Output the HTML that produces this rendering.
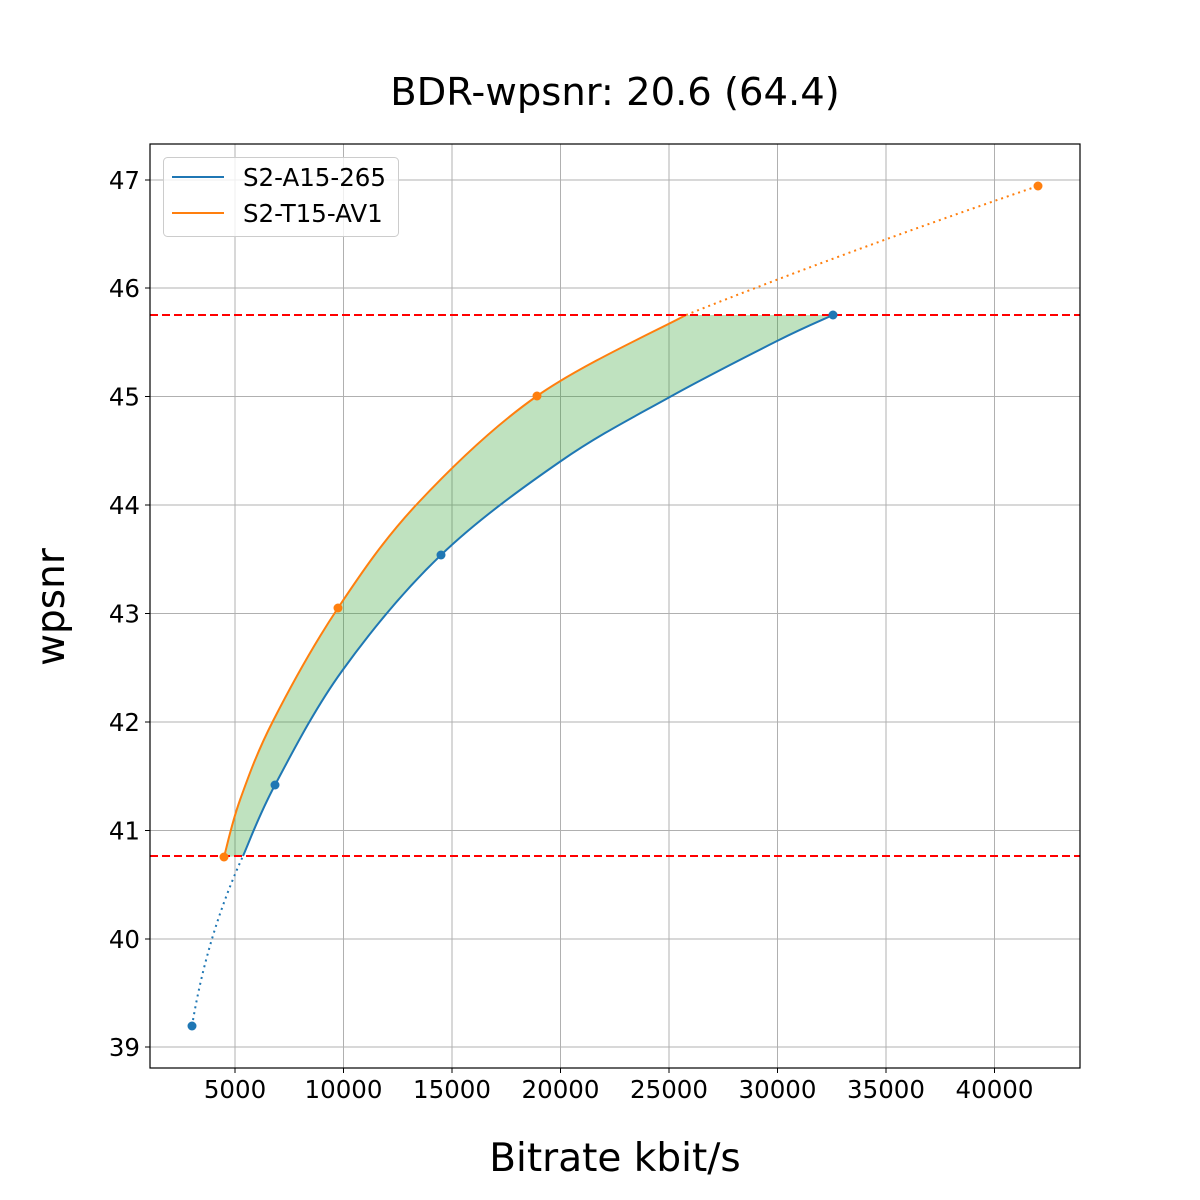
<!DOCTYPE html>
<html><head><meta charset="utf-8"><style>body{margin:0;background:#fff}svg{display:block}</style></head><body>
<svg id="s" width="1200" height="1200" xmlns="http://www.w3.org/2000/svg" font-family="DejaVu Sans, Liberation Sans, sans-serif">
<rect width="1200" height="1200" fill="#fff"/>
<g stroke="#b0b0b0" stroke-width="1">
<line x1="235" y1="144" x2="235" y2="1068"/><line x1="343.5" y1="144" x2="343.5" y2="1068"/><line x1="452" y1="144" x2="452" y2="1068"/><line x1="560.5" y1="144" x2="560.5" y2="1068"/><line x1="669" y1="144" x2="669" y2="1068"/><line x1="777.5" y1="144" x2="777.5" y2="1068"/><line x1="886" y1="144" x2="886" y2="1068"/><line x1="994.5" y1="144" x2="994.5" y2="1068"/>
<line x1="150" y1="180" x2="1080" y2="180"/><line x1="150" y1="288" x2="1080" y2="288"/><line x1="150" y1="396.5" x2="1080" y2="396.5"/><line x1="150" y1="505" x2="1080" y2="505"/><line x1="150" y1="613.5" x2="1080" y2="613.5"/><line x1="150" y1="722" x2="1080" y2="722"/><line x1="150" y1="830.5" x2="1080" y2="830.5"/><line x1="150" y1="939" x2="1080" y2="939"/><line x1="150" y1="1047" x2="1080" y2="1047"/>
</g>
<path id="fill" fill="#2ca02c" fill-opacity="0.3" d="M224,857 L273,721 L338,608 L451,468 L537,396 L686,315 L833,315 L668,398 L441,555 L342,671 L275,785 L243,856Z"/>
<path id="bd" fill="none" stroke="#1f77b4" stroke-width="2" stroke-dasharray="2,4" d="M192,1026 Q207,935 243,856"/>
<path id="b" fill="none" stroke="#1f77b4" stroke-width="2" d="M243,856 L275,785 L342,671 L441,555 L561,461 L668,398 L777,341 L833,315"/>
<path id="od" fill="none" stroke="#ff7f0e" stroke-width="2" stroke-dasharray="2,4" d="M686,315 Q850,250 1038,186"/>
<path id="o" fill="none" stroke="#ff7f0e" stroke-width="2" d="M224,857 L273,721 L338,608 L418,503 L537,396 L686,315"/>
<g stroke="#ff0000" stroke-width="2" stroke-dasharray="8,4"><line x1="150" y1="315" x2="1080" y2="315"/><line x1="150" y1="856" x2="1080" y2="856"/></g>
<g fill="#1f77b4"><circle cx="192" cy="1026" r="4.5"/><circle cx="275" cy="785" r="4.5"/><circle cx="441" cy="555" r="4.5"/><circle cx="833" cy="315" r="4.5"/></g>
<g fill="#ff7f0e"><circle cx="224" cy="857" r="4.5"/><circle cx="338" cy="608" r="4.5"/><circle cx="537" cy="396" r="4.5"/><circle cx="1038" cy="186" r="4.5"/></g>
<rect x="150" y="144" width="930" height="924" fill="none" stroke="#000" stroke-width="1.2"/>
<g stroke="#000"><line x1="235" y1="1068" x2="235" y2="1073"/><line x1="343.5" y1="1068" x2="343.5" y2="1073"/><line x1="452" y1="1068" x2="452" y2="1073"/><line x1="560.5" y1="1068" x2="560.5" y2="1073"/><line x1="669" y1="1068" x2="669" y2="1073"/><line x1="777.5" y1="1068" x2="777.5" y2="1073"/><line x1="886" y1="1068" x2="886" y2="1073"/><line x1="994.5" y1="1068" x2="994.5" y2="1073"/>
<line x1="145" y1="180" x2="150" y2="180"/><line x1="145" y1="288" x2="150" y2="288"/><line x1="145" y1="396.5" x2="150" y2="396.5"/><line x1="145" y1="505" x2="150" y2="505"/><line x1="145" y1="613.5" x2="150" y2="613.5"/><line x1="145" y1="722" x2="150" y2="722"/><line x1="145" y1="830.5" x2="150" y2="830.5"/><line x1="145" y1="939" x2="150" y2="939"/><line x1="145" y1="1047" x2="150" y2="1047"/></g>
<g font-size="24.5" text-anchor="middle" fill="#000"><text x="235" y="1098">5000</text><text x="343.5" y="1098">10000</text><text x="452" y="1098">15000</text><text x="560.5" y="1098">20000</text><text x="669" y="1098">25000</text><text x="777.5" y="1098">30000</text><text x="886" y="1098">35000</text><text x="994.5" y="1098">40000</text></g>
<g font-size="24.5" text-anchor="end" fill="#000"><text x="140" y="189">47</text><text x="140" y="297">46</text><text x="140" y="405.5">45</text><text x="140" y="514">44</text><text x="140" y="622.5">43</text><text x="140" y="731">42</text><text x="140" y="839.5">41</text><text x="140" y="948">40</text><text x="140" y="1056">39</text></g>
<text x="615" y="105" font-size="38.5" text-anchor="middle">BDR-wpsnr: 20.6 (64.4)</text>
<text x="615" y="1171" font-size="39" text-anchor="middle">Bitrate kbit/s</text>
<text transform="translate(64,607) rotate(-90)" font-size="39" text-anchor="middle">wpsnr</text>
<rect x="163.5" y="157.5" width="235" height="79" rx="4" fill="#fff" fill-opacity="0.8" stroke="#ccc"/>
<line x1="172" y1="177" x2="224" y2="177" stroke="#1f77b4" stroke-width="2"/>
<line x1="172" y1="213" x2="224" y2="213" stroke="#ff7f0e" stroke-width="2"/>
<text x="243" y="186" font-size="24.5">S2-A15-265</text>
<text x="243" y="222" font-size="24.5">S2-T15-AV1</text>
</svg>
<script>
function cr(p){var d="M"+p[0][0]+","+p[0][1];for(var i=0;i<p.length-1;i++){var a=p[Math.max(i-1,0)],b=p[i],c=p[i+1],e=p[Math.min(i+2,p.length-1)];d+=" C"+(b[0]+(c[0]-a[0])/6)+","+(b[1]+(c[1]-a[1])/6)+" "+(c[0]-(e[0]-b[0])/6)+","+(c[1]-(e[1]-b[1])/6)+" "+c[0]+","+c[1];}return d;}
var B=[[243,856],[275,785],[342,671],[441,555],[561,461],[668,398],[777,341],[833,315]];
var O=[[224,857],[240,800],[273,721],[338,608],[418,503],[537,396],[686,315]];
document.getElementById("b").setAttribute("d",cr(B));
document.getElementById("o").setAttribute("d",cr(O));
var f=cr(O)+" L833,315 "+cr(B.slice().reverse()).replace(/^M/,"L")+" Z";
document.getElementById("fill").setAttribute("d",f);
</script>
</body></html>
